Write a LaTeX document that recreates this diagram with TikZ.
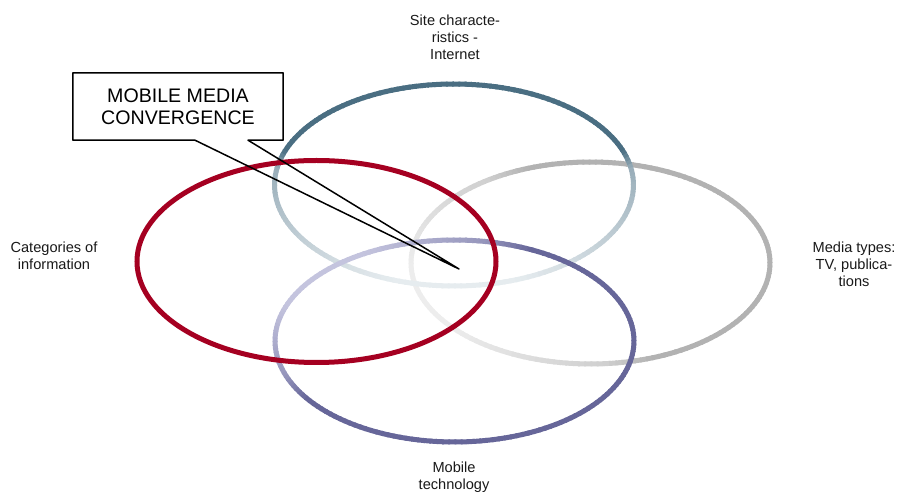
\documentclass[tikz,border=0pt]{standalone}
\usepackage{fontspec}
\setmainfont{Liberation Sans}
\usetikzlibrary{calc}
\definecolor{tealD}{HTML}{4A6E82}
\definecolor{tealL}{HTML}{E6ECEF}
\definecolor{grayD}{HTML}{B2B2B2}
\definecolor{grayL}{HTML}{EDEDED}
\definecolor{purD}{HTML}{666699}
\definecolor{purL}{HTML}{C4C4DE}
\definecolor{redC}{HTML}{A50021}
\tikzset{
  ring/.style={line width=5pt, line cap=butt},
  lbl/.style={align=center, inner sep=0pt, font=\fontsize{14.6}{17}\selectfont, text=black!90},
  callouttext/.style={align=center, inner sep=0pt, minimum width=210, minimum height=67, font=\fontsize{19.6}{21.7}\selectfont},
  calloutline/.style={draw=black, line width=1.5pt, line join=round}
}
% #1 cx, #2 cy, #3 dark, #4 light, #5 light-centre angle, #6-#9 ramp limits
\newcommand{\gradell}[9]{%
  \foreach \a in {0,2,...,358}{%
    \pgfmathsetmacro\gD{180-abs(mod(\a+1-#5+720,360)-180)}%
    \pgfmathsetmacro\gT{0.5*min(1,max(0,(\gD-#6)/(#7-#6)))+0.5*min(1,max(0,(\gD-#8)/(#9-#8)))}%
    \pgfmathtruncatemacro\gP{round(100*\gT)}%
    \draw[ring, #3!\gP!#4] (#1,#2) ++(\a:179.5 and 101) arc[start angle=\a, end angle=\a+2.6, x radius=179.5, y radius=101];
  }%
}
\begin{document}
\begin{tikzpicture}[x=1pt,y=1pt]
\useasboundingbox (0,0) rectangle (897,495);
\clip (0,0) rectangle (897,495);
% ellipses
\gradell{590.5}{232}{grayD}{grayL}{200}{20}{75}{75}{90}
\gradell{454}{310}{tealD}{tealL}{270}{20}{100}{100}{110}
\gradell{454.5}{154}{purD}{purL}{140}{20}{60}{60}{75}
\draw[ring, redC] (316.5,233.5) ellipse [x radius=179.5, y radius=101];
% labels
\node[lbl] (site) at (455,458) {Site characte-\\ristics -\\Internet};
\node[lbl] (cat) at (54,239.5) {Categories of\\information};
\node[lbl] (media) at (854,231) {Media types:\\TV, publica-\\tions};
\node[lbl] (mobile) at (454,18) {Mobile\\technology};
% callout
\node[callouttext, fill=white] (callout) at (178,388.5) {MOBILE MEDIA\\CONVERGENCE};
\coordinate (tip) at (459,226);
\draw[calloutline] ($(callout.south)+(17,0)$) -- (callout.south west) -- (callout.north west) -- (callout.north east) -- (callout.south east) -- ($(callout.south)+(70,0)$) -- (tip) -- cycle;
\end{tikzpicture}
\end{document}
